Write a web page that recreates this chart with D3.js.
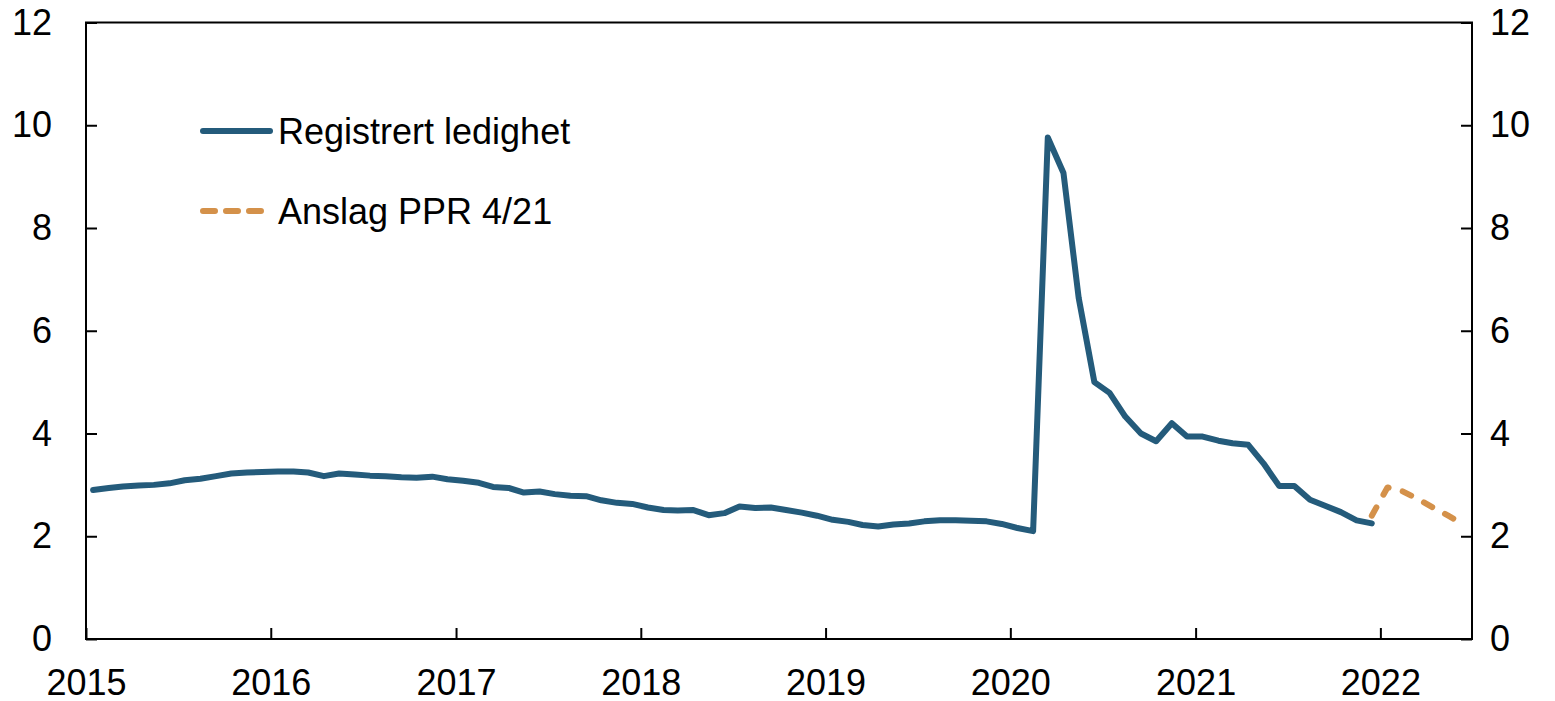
<!DOCTYPE html>
<html>
<head>
<meta charset="utf-8">
<script src="https://cdn.jsdelivr.net/npm/d3@7"></script>
<style>
  html, body { margin: 0; padding: 0; background: #fff; }
  svg { display: block; }
  text { font-family: "Liberation Sans", Arial, sans-serif; fill: #000; }
</style>
</head>
<body>
<svg id="chart" width="1555" height="701"></svg>
<script>
// Registered unemployment, monthly, percent of labour force (Jan 2015 – Dec 2021)
const actualStart = "2015-01";
const actualValues = [
  2.90, 2.94, 2.97, 2.99, 3.00, 3.03, 3.09, 3.12, 3.17, 3.22, 3.24, 3.25, // 2015
  3.26, 3.26, 3.24, 3.17, 3.22, 3.20, 3.18, 3.17, 3.15, 3.14, 3.16, 3.11, // 2016
  3.08, 3.04, 2.96, 2.94, 2.85, 2.87, 2.82, 2.79, 2.78, 2.70, 2.65, 2.63, // 2017
  2.56, 2.51, 2.50, 2.51, 2.41, 2.45, 2.58, 2.55, 2.56, 2.51, 2.46, 2.40, // 2018
  2.32, 2.28, 2.22, 2.19, 2.23, 2.25, 2.29, 2.31, 2.31, 2.30, 2.29, 2.24, // 2019
  2.16, 2.10, 9.76, 9.07, 6.64, 5.00, 4.79, 4.33, 4.00, 3.85, 4.20, 3.94, // 2020
  3.94, 3.86, 3.81, 3.78, 3.42, 2.98, 2.98, 2.71, 2.59, 2.47, 2.31, 2.25  // 2021
];

// Forecast from Pengepolitisk rapport 4/21 (Dec 2021 – Jun 2022)
const forecastStart = "2021-12";
const forecastValues = [2.40, 2.95, 2.87, 2.73, 2.56, 2.40, 2.23];

const yTicks = [0, 2, 4, 6, 8, 10, 12];
const yearLabels = ["2015", "2016", "2017", "2018", "2019", "2020", "2021", "2022"];
const seriesNames = ["Registrert ledighet", "Anslag PPR 4/21"];

const colors = { actual: "#245B7B", forecast: "#D4914A" };
const fontSize = 36;

const svg = d3.select("#chart");
const plot = { left: 86, right: 1472, top: 22.5, bottom: 639 };

const x = d3.scaleTime()
  .domain([new Date(2015, 0, 1), new Date(2022, 6, 1)])
  .range([plot.left, plot.right]);
const y = d3.scaleLinear().domain([0, 12]).range([plot.bottom, plot.top]);

// monthly observations are placed mid-month
const parseMonth = d3.timeParse("%Y-%m");
function monthly(start, values) {
  const s = parseMonth(start);
  return values.map((v, i) => ({ date: new Date(s.getFullYear(), s.getMonth() + i, 15), value: v }));
}
const actual = monthly(actualStart, actualValues);
const forecast = monthly(forecastStart, forecastValues);

const line = d3.line().x(d => x(d.date)).y(d => y(d.value)).curve(d3.curveLinear);

// frame
svg.append("rect")
  .attr("x", plot.left).attr("y", plot.top)
  .attr("width", plot.right - plot.left).attr("height", plot.bottom - plot.top)
  .attr("fill", "none").attr("stroke", "#000").attr("stroke-width", 2);

// left and right value axes, ticks pointing inward
const yLeft = d3.axisLeft(y).tickValues(yTicks).tickSize(-11).tickPadding(34).tickFormat(d3.format("d"));
const yRight = d3.axisRight(y).tickValues(yTicks).tickSize(-11).tickPadding(18).tickFormat(d3.format("d"));
const xAxis = d3.axisBottom(x)
  .tickValues(yearLabels.map(s => new Date(+s, 0, 1)))
  .tickSize(-11).tickPadding(30)
  .tickFormat(d => yearLabels[d.getFullYear() - 2015]);

function styleAxis(g) {
  g.select(".domain").remove();
  g.selectAll(".tick line").attr("stroke", "#000").attr("stroke-width", 2);
  g.selectAll(".tick text").attr("font-size", fontSize).attr("font-family", "Liberation Sans, Arial, sans-serif").attr("fill", "#000");
}
svg.append("g").attr("transform", `translate(${plot.left},0)`).call(yLeft).call(styleAxis);
svg.append("g").attr("transform", `translate(${plot.right},0)`).call(yRight).call(styleAxis);
svg.append("g").attr("transform", `translate(0,${plot.bottom})`).call(xAxis).call(styleAxis);

// series
svg.append("path").datum(actual)
  .attr("d", line).attr("fill", "none")
  .attr("stroke", colors.actual).attr("stroke-width", 6)
  .attr("stroke-linejoin", "round").attr("stroke-linecap", "round");

svg.append("path").datum(forecast)
  .attr("d", line).attr("fill", "none")
  .attr("stroke", colors.forecast).attr("stroke-width", 6)
  .attr("stroke-dasharray", "9.5,14.5")
  .attr("stroke-linejoin", "round").attr("stroke-linecap", "round");

// legend
const legend = svg.append("g");
const legendRows = [
  { name: seriesNames[0], color: colors.actual, dash: null, y: 131 },
  { name: seriesNames[1], color: colors.forecast, dash: "12,11", y: 211 }
];
legendRows.forEach(r => {
  legend.append("line")
    .attr("x1", 203).attr("x2", 270).attr("y1", r.y).attr("y2", r.y)
    .attr("stroke", r.color).attr("stroke-width", 6).attr("stroke-linecap", "round")
    .attr("stroke-dasharray", r.dash);
  legend.append("text")
    .attr("x", 278).attr("y", r.y).attr("dy", "0.35em")
    .attr("font-size", fontSize).text(r.name);
});
</script>
</body>
</html>
